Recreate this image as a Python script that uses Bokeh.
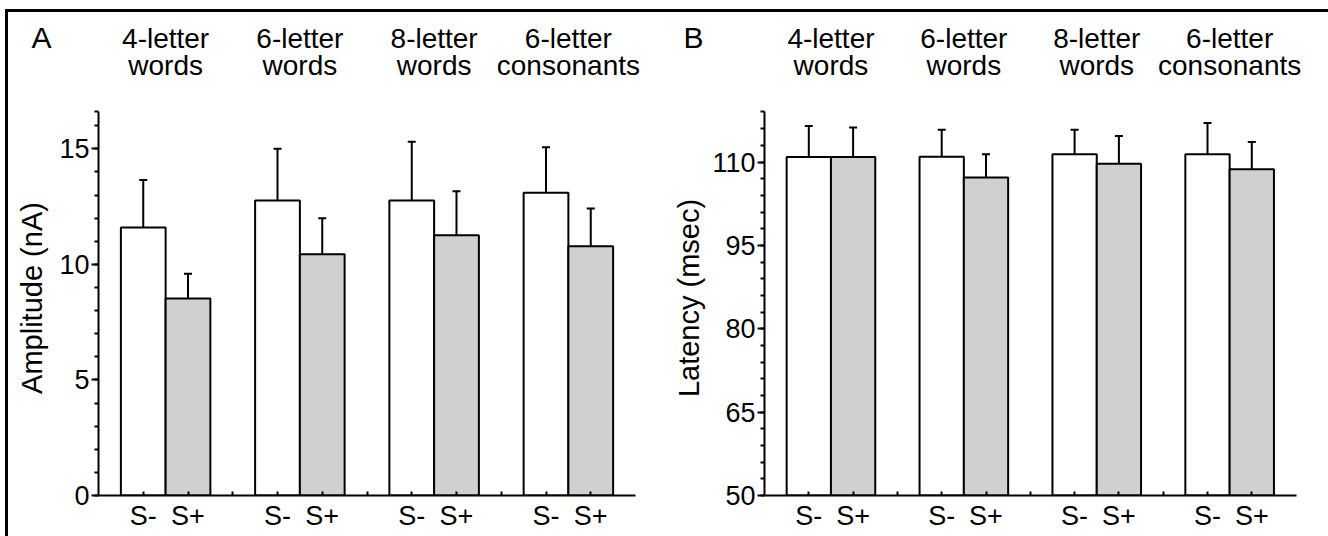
from bokeh.plotting import figure
from bokeh.layouts import row, column
from bokeh.models import (ColumnDataSource, FixedTicker, Whisker, TeeHead, Range1d,
                          InlineStyleSheet)
from bokeh.core.properties import value
from bokeh.embed import file_html
from bokeh.resources import INLINE

# ---------------- data ----------------
group_line1 = ["4-letter", "6-letter", "8-letter", "6-letter"]
group_line2 = ["words", "words", "words", "consonants"]
conditions = ["S-", "S+"]

amp_minus = [11.6, 12.76, 12.77, 13.1]
amp_minus_err = [2.05, 2.24, 2.54, 1.97]
amp_plus = [8.52, 10.44, 11.26, 10.78]
amp_plus_err = [1.08, 1.56, 1.91, 1.64]

lat_minus = [110.9, 110.95, 111.4, 111.4]
lat_minus_err = [5.6, 4.85, 4.4, 5.6]
lat_plus = [110.9, 107.2, 109.7, 108.7]
lat_plus_err = [5.3, 4.2, 5.0, 4.9]

amp_ticks = [0, 5, 10, 15]
lat_ticks = [50, 65, 80, 95, 110]

# ---------------- style / layout ----------------
FONT = "Liberation Sans"
GRAY = "#d0d0d0"
STRIP_H = 88        # page y 12 .. 100
PANEL_H = 436       # page y 100 .. 536
BOTTOM = 41         # frame bottom at page y 495
TITLE_SIZE = "28px"
TICK_SIZE = "27px"
AXIS_LABEL_SIZE = "29px"


def strip(letter, width, x0_px, ppu_x, n, letter_x_px):
    """Header strip holding the panel letter and the group titles.
    y data == page pixel row; x data aligned with the panel below."""
    start = (0 - x0_px) / ppu_x
    end = (width - x0_px) / ppu_x
    s = figure(width=width, height=STRIP_H, x_range=Range1d(start, end),
               y_range=Range1d(100, 12), output_backend="svg",
               toolbar_location=None, min_border=0)
    s.axis.visible = False
    s.grid.visible = False
    s.outline_line_color = None
    s.background_fill_color = None
    s.border_fill_color = None
    centers = [3 * g + 1.5 for g in range(n)]
    s.text(x=centers, y=[38] * n, text=group_line1, text_align="center",
           text_baseline="alphabetic", text_font=value(FONT),
           text_font_size=TITLE_SIZE, text_color="black")
    s.text(x=centers, y=[65] * n, text=group_line2, text_align="center",
           text_baseline="alphabetic", text_font=value(FONT),
           text_font_size=TITLE_SIZE, text_color="black")
    s.text(x=[(letter_x_px - x0_px) / ppu_x], y=[37], text=[letter],
           text_align="center", text_baseline="alphabetic", text_font=value(FONT),
           text_font_size="30px", text_color="black")
    return s


def panel(ylabel, minus, minus_err, plus, plus_err, ymin, axis_top, ppu_y,
          major, minor_step, width, left, ppu_x, label_standoff):
    n = len(minus)
    x_minus = [3 * g + 1 for g in range(n)]
    x_plus = [3 * g + 2 for g in range(n)]
    frame_h = PANEL_H - BOTTOM
    p = figure(width=width, height=PANEL_H,
               x_range=Range1d(0, (width - left) / ppu_x),
               y_range=Range1d(ymin, ymin + frame_h / ppu_y), output_backend="svg",
               toolbar_location=None, min_border_left=left, min_border_right=0,
               min_border_top=0, min_border_bottom=BOTTOM)
    p.outline_line_color = None
    p.grid.visible = False
    p.background_fill_color = None
    p.border_fill_color = None

    for xs, vals, errs, fill in ((x_minus, minus, minus_err, "white"),
                                 (x_plus, plus, plus_err, GRAY)):
        src = ColumnDataSource(dict(x=xs, top=vals,
                                    upper=[v + e for v, e in zip(vals, errs)]))
        w = Whisker(source=src, base="x", lower="top", upper="upper",
                    dimension="height", line_width=2, line_color="black",
                    upper_head=TeeHead(size=8, line_width=2, line_color="black"),
                    lower_head=None)
        p.add_layout(w)
        p.vbar(x="x", width=1.0, bottom=ymin, top="top", source=src,
               fill_color=fill, line_color="black", line_width=2)

    # x axis
    xa = p.xaxis[0]
    xa.ticker = FixedTicker(ticks=list(range(1, 3 * n)), minor_ticks=[])
    overrides = {}
    for t in range(1, 3 * n):
        overrides[t] = conditions[(t - 1) % 3] if (t % 3) != 0 else ""
    xa.major_label_overrides = overrides
    xa.bounds = (0, 3 * n)
    xa.axis_line_width = 2
    xa.major_tick_line_width = 2
    xa.major_tick_in = 4
    xa.major_tick_out = 0
    xa.minor_tick_line_color = None
    xa.major_label_standoff = 5
    xa.major_label_text_font = FONT
    xa.major_label_text_font_size = TICK_SIZE
    xa.major_label_text_color = "black"

    # y axis
    ya = p.yaxis[0]
    minor = []
    v = ymin
    while v <= axis_top + 1e-9:
        minor.append(round(v, 6))
        v += minor_step
    if abs(minor[-1] - axis_top) > 1e-6:
        minor.append(axis_top)
    ya.ticker = FixedTicker(ticks=major, minor_ticks=minor)
    ya.bounds = (ymin, axis_top)
    ya.axis_line_width = 2
    ya.major_tick_line_width = 2
    ya.minor_tick_line_width = 2
    ya.major_tick_in = 0
    ya.major_tick_out = 7
    ya.minor_tick_in = 0
    ya.minor_tick_out = 4
    ya.major_label_standoff = 2
    ya.major_label_text_font = FONT
    ya.major_label_text_font_size = TICK_SIZE
    ya.major_label_text_color = "black"
    ya.axis_label = ylabel
    ya.axis_label_text_font = FONT
    ya.axis_label_text_font_size = AXIS_LABEL_SIZE
    ya.axis_label_text_font_style = "normal"
    ya.axis_label_text_color = "black"
    ya.axis_label_standoff = label_standoff
    return p


n_groups = len(group_line1)
sA = strip("A", 656, 90, 44.75, n_groups, letter_x_px=33)
sB = strip("B", 664, 100, 44.3, n_groups, letter_x_px=29)
pA = panel("Amplitude (nA)", amp_minus, amp_minus_err, amp_plus, amp_plus_err,
           ymin=0, axis_top=16.6, ppu_y=23.11, major=amp_ticks, minor_step=1,
           width=656, left=90, ppu_x=44.75, label_standoff=8)
pB = panel("Latency (msec)", lat_minus, lat_minus_err, lat_plus, lat_plus_err,
           ymin=50, axis_top=119, ppu_y=5.558, major=lat_ticks, minor_step=3,
           width=664, left=100, ppu_x=44.3, label_standoff=4)

css = InlineStyleSheet(css=":host { border-top: 3px solid black; border-left: 3px solid black; }")
layout = column(row(sA, sB), row(pA, pB), margin=(9, 0, 0, 5), stylesheets=[css])

open("out.html", "w").write(file_html(layout, INLINE))
